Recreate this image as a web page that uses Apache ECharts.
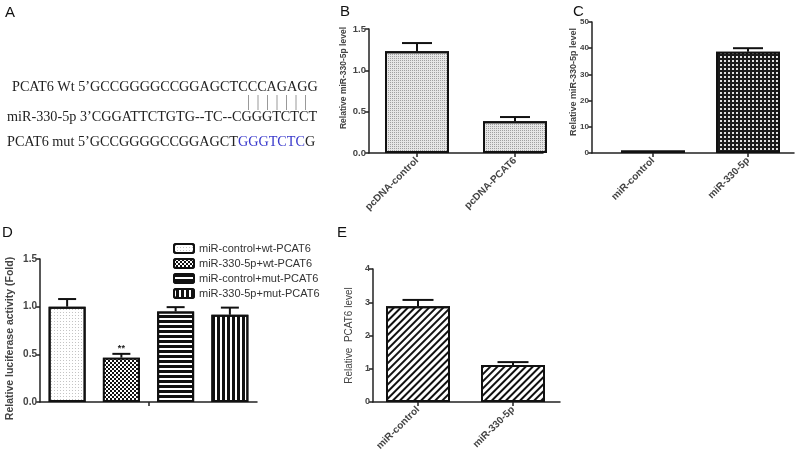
<!DOCTYPE html>
<html><head><meta charset="utf-8">
<script src="https://cdn.jsdelivr.net/npm/echarts@6/dist/echarts.min.js"></script>
<style>html,body{margin:0;padding:0;background:#fff}#c{width:800px;height:457px}</style>
</head><body><div id="c"></div>
<script>
// ---- Panel A: sequences ----
const seqWt = ['PCAT6 Wt 5’GCCGGGGCCGGAGCTCCCAGAGG'];
const seqMir = ['miR-330-5p 3’CGGATTCTGTG--TC--CGGGTCTCT'];
const seqMutParts = ['PCAT6 mut 5’GCCGGGGCCGGAGCT', 'GGGTCTC', 'G'];
const pairCount = 7;

// ---- Panel B ----
const bCategories = ['pcDNA-control', 'pcDNA-PCAT6'];
const bValues = [1.23, 0.385];
const bErrors = [0.10, 0.05];

// ---- Panel C ----
const cCategories = ['miR-control', 'miR-330-5p'];
const cValues = [1.0, 38.6];
const cErrors = [0, 1.4];

// ---- Panel D ----
const dSeries = ['miR-control+wt-PCAT6', 'miR-330-5p+wt-PCAT6', 'miR-control+mut-PCAT6', 'miR-330-5p+mut-PCAT6'];
const dValues = [1.0, 0.465, 0.95, 0.915];
const dErrors = [0.08, 0.04, 0.045, 0.075];
const dMarks = ['', '**', '', ''];

// ---- Panel E ----
const eCategories = ['miR-control', 'miR-330-5p'];
const eValues = [2.88, 1.11];
const eErrors = [0.19, 0.09];

const FF = '"Liberation Sans", Arial, sans-serif';
const SERIF = '"Liberation Serif", "Times New Roman", serif';
const AX = '#222';
const LBL = '#444';

function errSeries(xi, yi, vals, errs, cap, marks) {
  return {
    type: 'custom', xAxisIndex: xi, yAxisIndex: yi, z: 5, silent: true,
    data: vals.map((v, i) => [i, v, errs[i]]),
    renderItem(params, api) {
      const x = api.value(0), v = api.value(1), e = api.value(2);
      const p0 = api.coord([x, v]), p1 = api.coord([x, v + e]);
      const ch = [];
      if (e > 0) {
        ch.push({type: 'line', shape: {x1: p0[0], y1: p0[1], x2: p1[0], y2: p1[1]}, style: {stroke: '#111', lineWidth: 2}});
        ch.push({type: 'line', shape: {x1: p1[0] - cap / 2, y1: p1[1], x2: p1[0] + cap / 2, y2: p1[1]}, style: {stroke: '#111', lineWidth: 2}});
      }
      if (marks && marks[params.dataIndex]) {
        ch.push({type: 'text', style: {text: marks[params.dataIndex], x: p1[0], y: p1[1] - 1, textAlign: 'center', textVerticalAlign: 'bottom', font: 'bold 9px ' + FF, fill: '#222'}});
      }
      return {type: 'group', children: ch};
    }
  };
}
function catAxis(grid, cats) {
  return {
    type: 'category', gridIndex: grid, data: cats, boundaryGap: true,
    axisLine: {show: false},
    axisTick: {show: true, alignWithLabel: true, length: 4, lineStyle: {color: AX, width: 1.5}},
    axisLabel: {rotate: 45, fontSize: 10, fontWeight: 'bold', color: LBL, margin: 6, fontFamily: FF},
    splitLine: {show: false}
  };
}
function lineAxis(grid) {
  return {type: 'value', gridIndex: grid, min: 0, max: 1,
    axisLine: {show: true, onZero: false, lineStyle: {color: AX, width: 1.5}},
    axisTick: {show: false}, axisLabel: {show: false}, splitLine: {show: false}};
}
function valAxis(grid, min, max, interval, digits, name, nameGap, nameStyle, labelSize) {
  return {type: 'value', gridIndex: grid, min, max, interval,
    axisLine: {show: true, onZero: false, lineStyle: {color: AX, width: 1.5}},
    axisTick: {show: true, length: 4, lineStyle: {color: AX, width: 1.5}},
    axisLabel: {fontSize: labelSize, fontWeight: 'bold', color: LBL, margin: 3, fontFamily: FF,
      formatter: v => v.toFixed(digits)},
    splitLine: {show: false},
    name, nameLocation: 'middle', nameGap, nameRotate: 90, nameMoveOverlap: false,
    nameTextStyle: Object.assign({fontFamily: FF, color: LBL, fontWeight: 'bold'}, nameStyle)};
}
function hiddenY(grid, min, max) { return {type: 'value', gridIndex: grid, min, max, show: false}; }

const BORDER = {borderColor: '#111', borderWidth: 2};
const decB = {symbol: 'rect', symbolSize: 1, color: '#a0a0a0', dashArrayX: [1, 1], dashArrayY: [1, 1]};
const decC = {symbol: 'rect', symbolSize: 1, color: '#e0e0e0', dashArrayX: [2, 1.5], dashArrayY: [2, 1.5]};
const decD = [
  {symbol: 'rect', symbolSize: 1, color: '#c4c4c4', dashArrayX: [1, 2], dashArrayY: [1, 2]},
  {symbol: 'rect', symbolSize: 1, color: '#ffffff', dashArrayX: [[2, 2], [0, 2, 2, 0]], dashArrayY: [2, 0]},
  {symbol: 'rect', symbolSize: 1, color: '#111111', dashArrayX: [1, 0], dashArrayY: [2.5, 1.5]},
  {symbol: 'rect', symbolSize: 1, color: '#111111', dashArrayX: [1, 0], dashArrayY: [2.5, 1.5], rotation: Math.PI / 2}
];
const dFill = ['#ffffff', '#111111', '#ffffff', '#ffffff'];
const decE = {symbol: 'rect', symbolSize: 1, color: '#111111', dashArrayX: [1, 0], dashArrayY: [2, 3], rotation: -Math.PI / 4};

const grids = [
  {left: 368, top: 29, width: 196, height: 124},   // 0 B bars
  {left: 369, top: 29, width: 174, height: 124},   // 1 B axes
  {left: 605.5, top: 22, width: 190, height: 131}, // 2 C bars
  {left: 592, top: 22, width: 202, height: 131},   // 3 C axes
  {left: 40, top: 259, width: 217, height: 143},   // 4 D
  {left: 370.5, top: 269, width: 190, height: 133},// 5 E bars
  {left: 373, top: 269, width: 187, height: 133}   // 6 E axes
].map(g => Object.assign({outerBoundsMode: 'none', containLabel: false}, g));

const xAxis = [
  catAxis(0, bCategories),
  lineAxis(1),
  catAxis(2, cCategories),
  lineAxis(3),
  {type: 'category', gridIndex: 4, data: dSeries, boundaryGap: true,
   axisLine: {show: true, onZero: false, lineStyle: {color: AX, width: 1.5}},
   axisTick: {show: false}, axisLabel: {show: false}, splitLine: {show: false}},
  {type: 'category', gridIndex: 4, data: [''], position: 'bottom', boundaryGap: true,
   axisLine: {show: false}, axisTick: {show: true, alignWithLabel: true, length: 4, lineStyle: {color: AX, width: 1.5}},
   axisLabel: {show: false}, splitLine: {show: false}},
  catAxis(5, eCategories),
  lineAxis(6)
];
const yAxis = [
  hiddenY(0, 0, 1.5),
  valAxis(1, 0, 1.5, 0.5, 1, 'Relative miR-330-5p level', 21, {fontSize: 8.5, padding: [0, 0, 0, 26]}, 9.5),
  hiddenY(2, 0, 50),
  valAxis(3, 0, 50, 10, 0, 'Relative miR-330-5p level', 14, {fontSize: 9, padding: [0, 0, 0, 11]}, 8),
  valAxis(4, 0, 1.5, 0.5, 1, 'Relative luciferase activity (Fold)', 24, {fontSize: 10.5, padding: [0, 16, 0, 0]}, 10),
  hiddenY(5, 0, 4),
  valAxis(6, 0, 4, 1, 0, 'Relative  PCAT6 level', 19, {fontSize: 10, fontWeight: 'normal'}, 9)
];

const series = [
  {type: 'bar', name: 'B', xAxisIndex: 0, yAxisIndex: 0, data: bValues, barWidth: 64,
   itemStyle: Object.assign({color: '#e6e6e6', decal: decB}, BORDER)},
  errSeries(0, 0, bValues, bErrors, 30),
  {type: 'bar', name: 'C', xAxisIndex: 2, yAxisIndex: 2, data: cValues, barWidth: 64,
   itemStyle: Object.assign({color: '#1a1a1a', decal: decC}, BORDER)},
  errSeries(2, 2, cValues, cErrors, 30),
  ...dSeries.map((n, i) => ({
    type: 'bar', name: n, xAxisIndex: 4, yAxisIndex: 4, stack: 'd', barWidth: 37,
    data: dValues.map((v, j) => (j === i ? v : '-')),
    itemStyle: Object.assign({color: dFill[i], decal: decD[i]}, BORDER)
  })),
  errSeries(4, 4, dValues, dErrors, 18, dMarks),
  {type: 'bar', name: 'E', xAxisIndex: 6, yAxisIndex: 5, data: eValues, barWidth: 64,
   itemStyle: Object.assign({color: '#ffffff', decal: decE}, BORDER)},
  errSeries(6, 5, eValues, eErrors, 31)
];

const panelLabel = (t, x, y) => ({type: 'text', left: x, top: y, style: {text: t, font: '15px ' + FF, fill: '#111'}});
const seqFont = '14.2px ' + SERIF;
const graphic = [
  panelLabel('A', 5, 5), panelLabel('B', 340, 4), panelLabel('C', 573, 4),
  panelLabel('D', 2, 225), panelLabel('E', 337, 225),
  {type: 'text', x: 12, y: 87, style: {text: seqWt[0], font: seqFont, fill: '#222', textVerticalAlign: 'middle'}},
  {type: 'text', x: 7, y: 117, style: {text: seqMir[0], font: seqFont, fill: '#222', textVerticalAlign: 'middle'}},
  {type: 'text', x: 7, y: 142, style: {
    text: '{a|' + seqMutParts[0] + '}{b|' + seqMutParts[1] + '}{a|' + seqMutParts[2] + '}',
    textVerticalAlign: 'middle',
    rich: {a: {font: seqFont, fill: '#222', color: '#222'}, b: {font: seqFont, fill: '#3a3acc', color: '#3a3acc'}}}},
  ...Array.from({length: pairCount}, (_, i) => ({type: 'line', shape: {x1: 248.5 + i * 9.5, y1: 95, x2: 248.5 + i * 9.5, y2: 110}, style: {stroke: '#999', lineWidth: 1}}))
];

const chart = echarts.init(document.getElementById('c'));
chart.setOption({
  animation: false,
  backgroundColor: '#fff',
  textStyle: {fontFamily: FF},
  grid: grids, xAxis, yAxis, series, graphic,
  legend: {data: dSeries, orient: 'vertical', left: 168, top: 238, itemWidth: 20, itemHeight: 9, itemGap: 4,
    icon: 'roundRect', textStyle: {fontSize: 11, color: '#333', fontFamily: FF}, selectedMode: false}
});
</script></body></html>
